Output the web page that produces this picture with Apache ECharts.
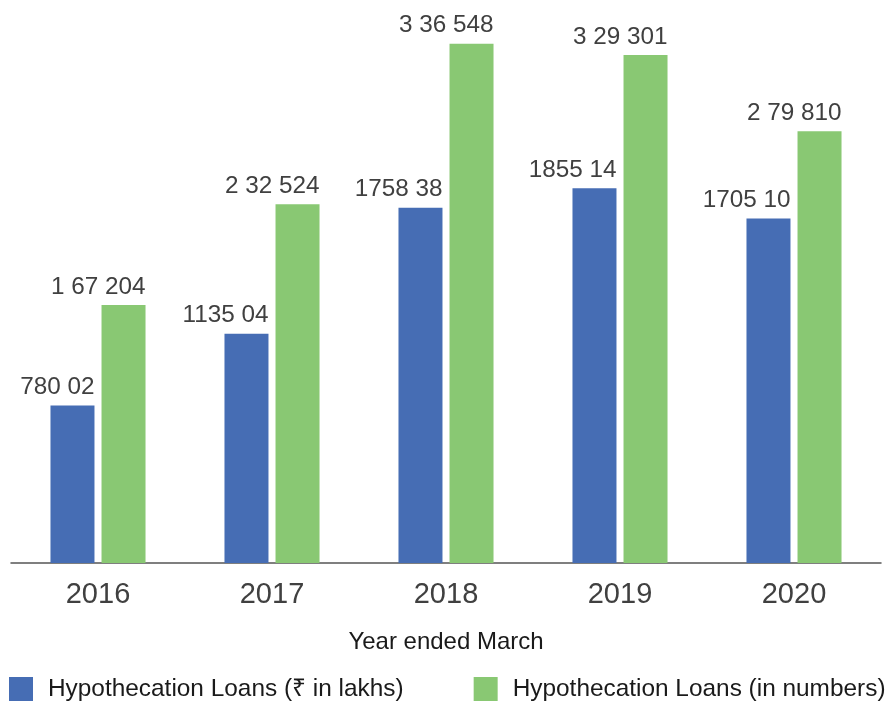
<!DOCTYPE html>
<html>
<head>
<meta charset="utf-8">
<script src="https://cdn.jsdelivr.net/npm/echarts@6/dist/echarts.min.js"></script>
<style>
  html, body { margin: 0; padding: 0; background: #fff; }
  #chart { width: 887px; height: 703px; }
</style>
</head>
<body>
<div id="chart"></div>
<script>
const years = ['2016', '2017', '2018', '2019', '2020'];
const loansLakhs = [78002, 113504, 175838, 185514, 170510];
const loansCount = [167204, 232524, 336548, 329301, 279810];
const lakhsLabels = ['780 02', '1135 04', '1758 38', '1855 14', '1705 10'];
const countLabels = ['1 67 204', '2 32 524', '3 36 548', '3 29 301', '2 79 810'];

const font = 'Liberation Sans, Arial, Helvetica, sans-serif';
const chart = echarts.init(document.getElementById('chart'));

// each series sits on its own hidden value axis
const barLabel = (texts) => ({
    show: true,
    position: 'top',
    align: 'right',
    offset: [22, 0],
    distance: 6,
    fontFamily: font,
    fontSize: 24.3,
    color: '#404040',
    formatter: p => texts[p.dataIndex]
});

const option = {
    animation: false,
    grid: { left: 11, right: 6, top: 23, bottom: 140 },
    legend: {
        left: 4,
        top: 672,
        width: 950,
        icon: 'rect',
        itemWidth: 24,
        itemHeight: 24,
        itemGap: 70,
        textStyle: { fontFamily: font, fontSize: 24.4, color: '#1a1a1a', padding: [0, 0, 0, 10] },
        data: ['Hypothecation Loans (₹ in lakhs)', 'Hypothecation Loans (in numbers)']
    },
    xAxis: {
        type: 'category',
        data: years,
        name: 'Year ended March',
        nameLocation: 'middle',
        nameGap: 67,
        nameTextStyle: { fontFamily: font, fontSize: 24, color: '#1a1a1a' },
        axisLine: { lineStyle: { color: '#555', width: 1.5 } },
        axisTick: { show: false },
        axisLabel: { fontFamily: font, fontSize: 29, color: '#404040', margin: 17 }
    },
    yAxis: [
        { type: 'value', min: 0, max: 267300, show: false, splitLine: { show: false } },
        { type: 'value', min: 0, max: 350000, show: false, splitLine: { show: false } }
    ],
    series: [
        {
            name: 'Hypothecation Loans (₹ in lakhs)',
            type: 'bar',
            yAxisIndex: 0,
            barWidth: 44,
            barGap: '16%',
            itemStyle: { color: '#466db4' },
            label: barLabel(lakhsLabels),
            data: loansLakhs
        },
        {
            name: 'Hypothecation Loans (in numbers)',
            type: 'bar',
            yAxisIndex: 1,
            barWidth: 44,
            barGap: '16%',
            itemStyle: { color: '#89c873' },
            label: barLabel(countLabels),
            data: loansCount
        }
    ]
};
option && chart.setOption(option);
</script>
</body>
</html>
